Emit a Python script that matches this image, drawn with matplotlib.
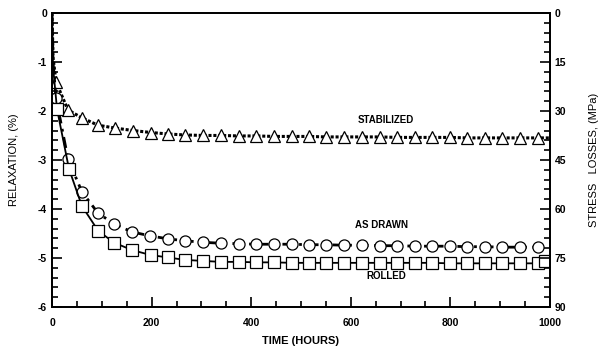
import matplotlib.pyplot as plt
from matplotlib.ticker import MultipleLocator

plt.rcParams['font.family'] = ['Liberation Sans', 'DejaVu Sans']
plt.rcParams['axes.unicode_minus'] = False

# tiempo (horas) y relajacion (%)
t_stab = [0, 2, 8, 32, 60, 92, 127, 163, 199, 233, 267, 303, 339, 376, 410, 446,
          482, 516, 550, 586, 622, 659, 693, 729, 763, 799, 833, 869, 904, 940, 976, 1000]
r_stab = [0, -0.9, -1.41, -1.98, -2.14, -2.29, -2.35, -2.40, -2.44, -2.47, -2.49, -2.50,
          -2.50, -2.51, -2.51, -2.52, -2.52, -2.52, -2.53, -2.53, -2.53, -2.53, -2.54,
          -2.54, -2.54, -2.54, -2.55, -2.55, -2.55, -2.55, -2.55, -2.55]

t_drawn = [0, 2, 8, 32, 60, 92, 125, 161, 197, 233, 267, 303, 339, 376, 410, 446,
           482, 516, 550, 586, 622, 659, 693, 729, 763, 799, 833, 869, 904, 940, 976, 1000]
r_drawn = [0, -1.0, -1.73, -2.98, -3.65, -4.08, -4.31, -4.47, -4.55, -4.61, -4.65, -4.68,
           -4.70, -4.71, -4.72, -4.72, -4.72, -4.73, -4.73, -4.74, -4.74, -4.75, -4.75,
           -4.76, -4.76, -4.76, -4.77, -4.77, -4.78, -4.78, -4.78, -4.79]

t_roll = [0, 2, 10, 34, 60, 93, 125, 161, 198, 233, 267, 303, 339, 376, 410, 446,
          482, 516, 550, 586, 622, 659, 693, 729, 763, 799, 833, 869, 904, 940, 976, 990, 1000]
r_roll = [0, -1.1, -1.96, -3.18, -3.94, -4.45, -4.69, -4.84, -4.94, -4.99, -5.04, -5.06,
          -5.08, -5.08, -5.09, -5.09, -5.10, -5.10, -5.10, -5.10, -5.10, -5.10, -5.10,
          -5.10, -5.10, -5.11, -5.11, -5.11, -5.11, -5.11, -5.11, -5.06, -5.05]

etiquetas = [('STABILIZED', 671, -2.18), ('AS DRAWN', 661, -4.33), ('ROLLED', 671, -5.37)]

fig = plt.figure(figsize=(6.05, 3.5), dpi=100)
ax = fig.add_axes([0.086, 0.123, 0.823, 0.840])

estilo_marca = dict(markersize=8, markerfacecolor='white', markeredgecolor='black',
                    markeredgewidth=0.9)
ax.plot(t_stab, r_stab, color='black', linestyle=(0, (1, 0.6)), linewidth=2.2,
        marker='^', markevery=list(range(2, len(t_stab) - 1)), **estilo_marca)
ax.plot(t_drawn, r_drawn, color='black', linestyle=(0, (4, 2, 1, 2)), linewidth=2.0,
        marker='o', markevery=list(range(2, len(t_drawn) - 1)), **estilo_marca)
ax.plot(t_roll, r_roll, color='black', linestyle='-', linewidth=1.3,
        marker='s', markevery=list(range(2, len(t_roll) - 1)), **estilo_marca)

for txt, x, y in etiquetas:
    ax.text(x, y, txt, ha='center', va='center', fontsize=7, fontweight='bold')

ax.set_xlim(0, 1000)
ax.set_ylim(-6, 0)
ax.xaxis.set_major_locator(MultipleLocator(200))
ax.xaxis.set_minor_locator(MultipleLocator(50))
ax.yaxis.set_major_locator(MultipleLocator(1))
ax.yaxis.set_minor_locator(MultipleLocator(0.2))
ax.tick_params(which='both', direction='in', width=1.2, labelsize=7.5)
ax.tick_params(which='major', length=7)
ax.tick_params(which='minor', length=4)
ax.tick_params(axis='x', pad=8)
for lab in ax.get_xticklabels() + ax.get_yticklabels():
    lab.set_fontweight('bold')
for s in ax.spines.values():
    s.set_linewidth(1.3)

ax.set_xlabel('TIME (HOURS)', fontsize=8, fontweight='bold', labelpad=6)
ax.set_ylabel('RELAXATION, (%)', fontsize=8, labelpad=14)

ax2 = ax.twinx()
ax2.set_ylim(90, 0)
ax2.yaxis.set_major_locator(MultipleLocator(15))
ax2.yaxis.set_minor_locator(MultipleLocator(3))
ax2.tick_params(which='both', direction='in', width=1.2, labelsize=7.5)
ax2.tick_params(which='major', length=7)
ax2.tick_params(which='minor', length=4)
for lab in ax2.get_yticklabels():
    lab.set_fontweight('bold')
ax2.set_ylabel('STRESS   LOSSES, (MPa)', fontsize=8, labelpad=16)
for s in ax2.spines.values():
    s.set_linewidth(1.3)

fig.savefig('out.png', dpi=100)
